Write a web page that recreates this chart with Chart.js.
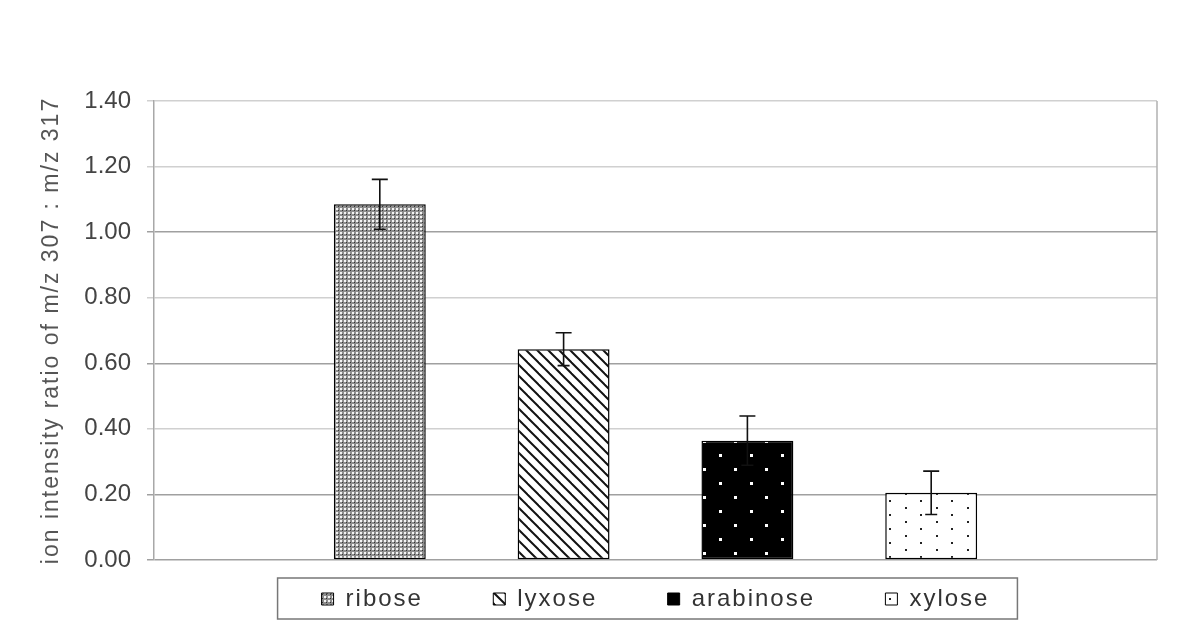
<!DOCTYPE html>
<html>
<head>
<meta charset="utf-8">
<script src="https://cdn.jsdelivr.net/npm/chart.js@4.4.1/dist/chart.umd.min.js"></script>
<style>
  html, body { margin: 0; padding: 0; background: #fff; }
  #wrap { width: 1200px; height: 640px; }
</style>
</head>
<body>
<div id="wrap"><canvas id="c" width="1200" height="640"></canvas></div>
<script>
const sugars = ["ribose", "lyxose", "arabinose", "xylose"];
const ratios = [1.085, 0.643, 0.364, 0.205];
const errors = [0.076, 0.05, 0.075, 0.066];
const yTicks = [0, 0.2, 0.4, 0.6, 0.8, 1.0, 1.2, 1.4];
const darkGrid = [0, 0.2, 0.6, 1.0];

function tile(w, h, draw) {
  const cv = document.createElement("canvas");
  cv.width = w; cv.height = h;
  const g = cv.getContext("2d");
  draw(g, w, h);
  return document.getElementById("c").getContext("2d").createPattern(cv, "repeat");
}

// fill patterns, one per sugar
const patterns = [
  tile(4, 4, (g) => {
    g.fillStyle = "#8e8e8e"; g.fillRect(0, 0, 4, 4);
    g.fillStyle = "#f4f4f4"; g.fillRect(0, 0, 2, 2);
    g.fillStyle = "#333"; g.fillRect(2, 2, 1, 1);
  }),
  tile(11, 11, (g) => {
    g.fillStyle = "#fff"; g.fillRect(0, 0, 11, 11);
    g.strokeStyle = "#111"; g.lineWidth = 2;
    for (let k = -1; k <= 1; k++) {
      g.beginPath(); g.moveTo(k * 11 - 1, -1); g.lineTo(k * 11 + 12, 12); g.stroke();
    }
  }),
  tile(31, 28, (g) => {
    g.fillStyle = "#000"; g.fillRect(0, 0, 31, 28);
    g.fillStyle = "#fff";
    g.fillRect(6, 6, 3, 3); g.fillRect(21, 20, 3, 3);
  }),
  tile(31, 14, (g) => {
    g.fillStyle = "#fff"; g.fillRect(0, 0, 31, 14);
    g.fillStyle = "#222";
    g.fillRect(6, 3, 2, 2); g.fillRect(21, 10, 2, 2);
  }),
];

// wide letter spacing for legend and axis title, none for tick numbers
const spacing = {
  id: "spacing",
  beforeLayout(chart) { chart.ctx.letterSpacing = "2px"; },
  beforeDraw(chart) {
    chart.ctx.letterSpacing = "2px";
    const y = chart.scales.y;
    if (!y._plainLabels) {
      const orig = y.drawLabels;
      y.drawLabels = function (area) {
        const prev = this.ctx.letterSpacing;
        this.ctx.letterSpacing = "0px";
        orig.call(this, area);
        this.ctx.letterSpacing = prev;
      };
      y._plainLabels = true;
    }
  }
};

const errorBars = {
  id: "errorBars",
  afterDatasetsDraw(chart) {
    const { ctx } = chart;
    const y = chart.scales.y;
    ctx.save();
    ctx.strokeStyle = "#111";
    ctx.lineWidth = 1.6;
    sugars.forEach((s, i) => {
      const bar = chart.getDatasetMeta(i).data[0];
      const top = y.getPixelForValue(ratios[i] + errors[i]);
      const bot = y.getPixelForValue(ratios[i] - errors[i]);
      ctx.beginPath();
      ctx.moveTo(bar.x, top); ctx.lineTo(bar.x, bot);
      ctx.moveTo(bar.x - 8, top); ctx.lineTo(bar.x + 8, top);
      ctx.moveTo(bar.x - 6, bot); ctx.lineTo(bar.x + 6, bot);
      ctx.stroke();
    });
    ctx.restore();
  }
};

// frame: right edge of plot and a border round the legend
const frame = {
  id: "frame",
  afterDraw(chart) {
    const { ctx, chartArea: a } = chart;
    ctx.save();
    ctx.strokeStyle = "#b0b0b0";
    ctx.lineWidth = 1.5;
    ctx.beginPath();
    ctx.moveTo(a.right, a.top); ctx.lineTo(a.right, a.bottom);
    ctx.stroke();
    const hb = chart.legend.legendHitBoxes;
    if (hb && hb.length) {
      const l = Math.min(...hb.map(b => b.left)) - 44;
      const r = Math.max(...hb.map(b => b.left + b.width)) + 28;
      const t = Math.min(...hb.map(b => b.top)) - 9;
      const btm = Math.max(...hb.map(b => b.top + b.height)) + 8;
      ctx.strokeStyle = "#777";
      ctx.strokeRect(l, t, r - l, btm - t);
    }
    ctx.restore();
  }
};

new Chart(document.getElementById("c"), {
  type: "bar",
  data: {
    labels: [""],
    datasets: sugars.map((s, i) => ({
      label: s,
      data: [ratios[i]],
      backgroundColor: patterns[i],
      borderColor: "#000",
      borderWidth: 1.5,
      borderSkipped: false,
      categoryPercentage: 0.733,
      barPercentage: 0.5,
    })),
  },
  options: {
    responsive: false,
    animation: false,
    layout: { padding: { top: 101, right: 43, left: 0, bottom: 19 } },
    plugins: {
      tooltip: { enabled: false },
      legend: {
        position: "bottom",
        fullSize: false,
        labels: {
          color: "#333",
          boxWidth: 12,
          boxHeight: 12,
          padding: 27,
          font: { family: "Liberation Sans", size: 24 },
          generateLabels(chart) {
            const items = Chart.defaults.plugins.legend.labels.generateLabels(chart);
            items.forEach((it, i) => {
              it.lineWidth = 1;
              it.strokeStyle = "#000";
              if (i < items.length - 1) it.text = it.text + "     ";
            });
            return items;
          },
        },
      },
    },
    scales: {
      x: {
        ticks: { display: false },
        grid: { display: false },
        border: { display: false },
        afterFit(s) { s.height = 0; },
      },
      y: {
        min: 0,
        max: 1.4,
        afterBuildTicks(s) { s.ticks = yTicks.map(v => ({ value: v })); },
        afterFit(s) { s.width = 154; },
        ticks: {
          color: "#444",
          padding: 16,
          font: { family: "Liberation Sans", size: 24 },
          callback: (v) => Number(v).toFixed(2),
        },
        grid: {
          color: (c) => (darkGrid.includes(Math.round(c.tick.value * 10) / 10) ? "#a0a0a0" : "#d0d0d0"),
          lineWidth: 1.5,
          tickLength: 7,
        },
        border: { color: "#a8a8a8", width: 1.5 },
        title: {
          display: true,
          text: "ion intensity ratio of m/z 307 : m/z 317",
          color: "#555",
          padding: { top: 38, bottom: 0 },
          font: { family: "Liberation Sans", size: 23 },
        },
      },
    },
  },
  plugins: [spacing, errorBars, frame],
});
</script>
</body>
</html>
